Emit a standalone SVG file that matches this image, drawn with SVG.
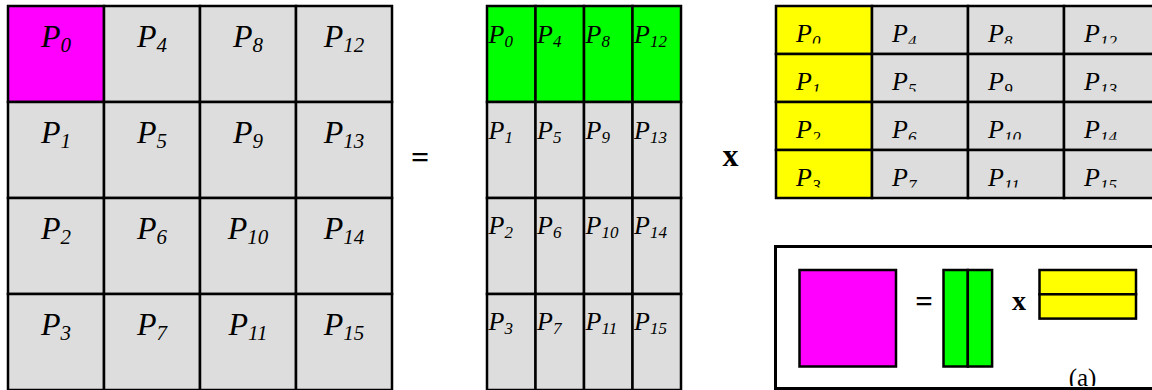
<svg xmlns="http://www.w3.org/2000/svg" width="1152" height="390" viewBox="0 0 1152 390">
<style>
.cell{fill:#dddddd;stroke:#000;stroke-width:2.5}
.mag{fill:#ff00ff;stroke:#000;stroke-width:2.5}
.grn{fill:#00ff00;stroke:#000;stroke-width:2.5}
.yel{fill:#ffff00;stroke:#000;stroke-width:2.5}
.big{font-family:"Liberation Serif",serif;font-style:italic;font-size:32px;fill:#000}
.big tspan{font-size:21px}
.mid{font-family:"Liberation Serif",serif;font-style:italic;font-size:26px;fill:#000}
.mid tspan{font-size:17px}
.op{font-family:"Liberation Serif",serif;font-weight:bold;fill:#000;text-anchor:middle}
</style>
<defs>
<clipPath id="rowclip">
<rect x="776" y="6" width="400" height="37.5"/>
<rect x="776" y="54" width="400" height="37.5"/>
<rect x="776" y="102" width="400" height="37.5"/>
<rect x="776" y="150" width="400" height="37.5"/>
</clipPath>
<clipPath id="aclip"><rect x="1040" y="350" width="100" height="36"/></clipPath>
</defs>
<rect width="1152" height="390" fill="#fff"/>

<g id="matrix-c" text-anchor="middle">
<rect class="mag" x="8" y="6" width="96" height="96"/>
<rect class="cell" x="8" y="102" width="96" height="96"/>
<rect class="cell" x="8" y="198" width="96" height="96"/>
<rect class="cell" x="8" y="294" width="96" height="96"/>
<rect class="cell" x="104" y="6" width="96" height="96"/>
<rect class="cell" x="104" y="102" width="96" height="96"/>
<rect class="cell" x="104" y="198" width="96" height="96"/>
<rect class="cell" x="104" y="294" width="96" height="96"/>
<rect class="cell" x="200" y="6" width="96" height="96"/>
<rect class="cell" x="200" y="102" width="96" height="96"/>
<rect class="cell" x="200" y="198" width="96" height="96"/>
<rect class="cell" x="200" y="294" width="96" height="96"/>
<rect class="cell" x="296" y="6" width="96" height="96"/>
<rect class="cell" x="296" y="102" width="96" height="96"/>
<rect class="cell" x="296" y="198" width="96" height="96"/>
<rect class="cell" x="296" y="294" width="96" height="96"/>
<text class="big" x="56" y="47">P<tspan dy="4.5">0</tspan></text>
<text class="big" x="56" y="143">P<tspan dy="4.5">1</tspan></text>
<text class="big" x="56" y="239">P<tspan dy="4.5">2</tspan></text>
<text class="big" x="56" y="335">P<tspan dy="4.5">3</tspan></text>
<text class="big" x="152" y="47">P<tspan dy="4.5">4</tspan></text>
<text class="big" x="152" y="143">P<tspan dy="4.5">5</tspan></text>
<text class="big" x="152" y="239">P<tspan dy="4.5">6</tspan></text>
<text class="big" x="152" y="335">P<tspan dy="4.5">7</tspan></text>
<text class="big" x="248" y="47">P<tspan dy="4.5">8</tspan></text>
<text class="big" x="248" y="143">P<tspan dy="4.5">9</tspan></text>
<text class="big" x="248" y="239">P<tspan dy="4.5">10</tspan></text>
<text class="big" x="248" y="335">P<tspan dy="4.5">11</tspan></text>
<text class="big" x="344" y="47">P<tspan dy="4.5">12</tspan></text>
<text class="big" x="344" y="143">P<tspan dy="4.5">13</tspan></text>
<text class="big" x="344" y="239">P<tspan dy="4.5">14</tspan></text>
<text class="big" x="344" y="335">P<tspan dy="4.5">15</tspan></text>
</g>

<g id="equals"><text class="op" x="420" y="168" font-size="32">=</text></g>

<g id="matrix-a">
<rect class="grn" x="487" y="6" width="48.5" height="96"/>
<rect class="grn" x="535.5" y="6" width="48.5" height="96"/>
<rect class="grn" x="584" y="6" width="48.5" height="96"/>
<rect class="grn" x="632.5" y="6" width="48.5" height="96"/>
<rect class="cell" x="487" y="102" width="48.5" height="96"/>
<rect class="cell" x="535.5" y="102" width="48.5" height="96"/>
<rect class="cell" x="584" y="102" width="48.5" height="96"/>
<rect class="cell" x="632.5" y="102" width="48.5" height="96"/>
<rect class="cell" x="487" y="198" width="48.5" height="96"/>
<rect class="cell" x="535.5" y="198" width="48.5" height="96"/>
<rect class="cell" x="584" y="198" width="48.5" height="96"/>
<rect class="cell" x="632.5" y="198" width="48.5" height="96"/>
<rect class="cell" x="487" y="294" width="48.5" height="96"/>
<rect class="cell" x="535.5" y="294" width="48.5" height="96"/>
<rect class="cell" x="584" y="294" width="48.5" height="96"/>
<rect class="cell" x="632.5" y="294" width="48.5" height="96"/>
<text class="mid" x="488.5" y="42.5">P<tspan dy="4">0</tspan></text>
<text class="mid" x="537" y="42.5">P<tspan dy="4">4</tspan></text>
<text class="mid" x="585.5" y="42.5">P<tspan dy="4">8</tspan></text>
<text class="mid" x="634" y="42.5">P<tspan dy="4">12</tspan></text>
<text class="mid" x="488.5" y="138.5">P<tspan dy="4">1</tspan></text>
<text class="mid" x="537" y="138.5">P<tspan dy="4">5</tspan></text>
<text class="mid" x="585.5" y="138.5">P<tspan dy="4">9</tspan></text>
<text class="mid" x="634" y="138.5">P<tspan dy="4">13</tspan></text>
<text class="mid" x="488.5" y="234">P<tspan dy="4">2</tspan></text>
<text class="mid" x="537" y="234">P<tspan dy="4">6</tspan></text>
<text class="mid" x="585.5" y="234">P<tspan dy="4">10</tspan></text>
<text class="mid" x="634" y="234">P<tspan dy="4">14</tspan></text>
<text class="mid" x="488.5" y="330">P<tspan dy="4">3</tspan></text>
<text class="mid" x="537" y="330">P<tspan dy="4">7</tspan></text>
<text class="mid" x="585.5" y="330">P<tspan dy="4">11</tspan></text>
<text class="mid" x="634" y="330">P<tspan dy="4">15</tspan></text>
</g>

<g id="times"><text class="op" x="730.5" y="165.5" font-size="32">x</text></g>

<g id="matrix-b">
<rect class="yel" x="776" y="6" width="96" height="48"/>
<rect class="yel" x="776" y="54" width="96" height="48"/>
<rect class="yel" x="776" y="102" width="96" height="48"/>
<rect class="yel" x="776" y="150" width="96" height="48"/>
<rect class="cell" x="872" y="6" width="96" height="48"/>
<rect class="cell" x="872" y="54" width="96" height="48"/>
<rect class="cell" x="872" y="102" width="96" height="48"/>
<rect class="cell" x="872" y="150" width="96" height="48"/>
<rect class="cell" x="968" y="6" width="96" height="48"/>
<rect class="cell" x="968" y="54" width="96" height="48"/>
<rect class="cell" x="968" y="102" width="96" height="48"/>
<rect class="cell" x="968" y="150" width="96" height="48"/>
<rect class="cell" x="1064" y="6" width="96" height="48"/>
<rect class="cell" x="1064" y="54" width="96" height="48"/>
<rect class="cell" x="1064" y="102" width="96" height="48"/>
<rect class="cell" x="1064" y="150" width="96" height="48"/>
<g clip-path="url(#rowclip)">
<text class="mid" x="796" y="41.5">P<tspan dy="5">0</tspan></text>
<text class="mid" x="796" y="89.5">P<tspan dy="5">1</tspan></text>
<text class="mid" x="796" y="137.5">P<tspan dy="5">2</tspan></text>
<text class="mid" x="796" y="185.5">P<tspan dy="5">3</tspan></text>
<text class="mid" x="892" y="41.5">P<tspan dy="5">4</tspan></text>
<text class="mid" x="892" y="89.5">P<tspan dy="5">5</tspan></text>
<text class="mid" x="892" y="137.5">P<tspan dy="5">6</tspan></text>
<text class="mid" x="892" y="185.5">P<tspan dy="5">7</tspan></text>
<text class="mid" x="988" y="41.5">P<tspan dy="5">8</tspan></text>
<text class="mid" x="988" y="89.5">P<tspan dy="5">9</tspan></text>
<text class="mid" x="988" y="137.5">P<tspan dy="5">10</tspan></text>
<text class="mid" x="988" y="185.5">P<tspan dy="5">11</tspan></text>
<text class="mid" x="1084" y="41.5">P<tspan dy="5">12</tspan></text>
<text class="mid" x="1084" y="89.5">P<tspan dy="5">13</tspan></text>
<text class="mid" x="1084" y="137.5">P<tspan dy="5">14</tspan></text>
<text class="mid" x="1084" y="185.5">P<tspan dy="5">15</tspan></text>
</g>
</g>

<g id="legend">
<rect x="775.5" y="246.5" width="400" height="142" fill="#fff" stroke="#000" stroke-width="3"/>
<rect class="mag" x="799.5" y="270" width="96.5" height="96.5" stroke-width="2"/>
<text class="op" x="924" y="312" font-size="31">=</text>
<rect class="grn" x="943.5" y="270" width="24.3" height="96.5" stroke-width="2"/>
<rect class="grn" x="967.8" y="270" width="24.3" height="96.5" stroke-width="2"/>
<text class="op" x="1019" y="309.5" font-size="28">x</text>
<rect class="yel" x="1039.5" y="270" width="96.5" height="24.3" stroke-width="2"/>
<rect class="yel" x="1039.5" y="294.3" width="96.5" height="24.3" stroke-width="2"/>
<text clip-path="url(#aclip)" x="1082.5" y="386" font-family="Liberation Serif, serif" font-size="25" text-anchor="middle">(a)</text>
</g>
</svg>
